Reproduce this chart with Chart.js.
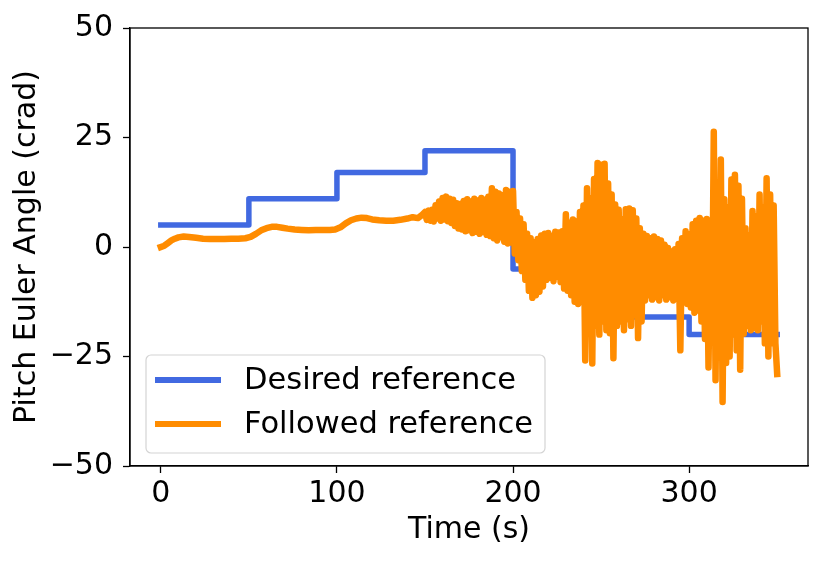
<!DOCTYPE html>
<html>
<head>
<meta charset="UTF-8">
<title>Pitch Euler Angle</title>
<script src="https://cdn.jsdelivr.net/npm/chart.js"></script>
<style>
  html, body { margin: 0; padding: 0; background: #fff; }
  canvas { display: block; }
</style>
</head>
<body>
<canvas id="pitchChart" width="830" height="562"></canvas>
<script>
var xTicks = [0, 100, 200, 300];
var yTicks = [-50, -25, 0, 25, 50];

// desired reference: level held from each time until the next one
var desiredTime = [0, 50, 100, 150, 200, 250, 300, 350];
var desiredValue = [5, 11, 17, 22, -5, -16, -20, -20];

// followed reference
var followedTime = [
  0, 2, 4, 6, 8, 10, 13, 16, 20, 24, 28, 32, 36, 40, 44, 48, 51, 54, 57, 60,
  63, 66, 69, 72, 76, 80, 84, 88, 92, 96, 99, 102, 105, 108, 111, 114, 117, 120, 124, 128,
  132, 136, 140, 143, 146, 148,
  150, 151, 152, 153, 154, 155, 156, 157, 158, 159,
  160, 161, 162, 163, 164, 165, 166, 167, 168, 169,
  170, 171, 172, 173, 174, 175, 176, 177, 178, 179,
  180, 181, 182, 183, 184, 185, 186, 187, 188, 189,
  190, 191, 192, 193, 194, 195, 196, 197, 198, 199,
  200, 201, 202, 203, 204, 205, 206, 207, 208, 209,
  210, 211, 212, 213, 214, 215, 216, 217, 218, 219,
  220, 221, 222, 223, 224, 225, 226, 227, 228, 229,
  230, 231, 232, 233, 234, 235, 236, 237, 238, 239,
  240, 241, 242, 243, 244, 245, 246, 247, 248, 249,
  250, 251, 252, 253, 254, 255, 256, 257, 258, 259,
  260, 261, 262, 263, 264, 265, 266, 267, 268, 269,
  270, 271, 272, 273, 274, 275, 276, 277, 278, 279,
  280, 281, 282, 283, 284, 285, 286, 287, 288, 289,
  290, 291, 292, 293, 294, 295, 296, 297, 298, 299,
  300, 301, 302, 303, 304, 305, 306, 307, 308, 309,
  310, 311, 312, 313, 314, 315, 316, 317, 318, 319,
  320, 321, 322, 323, 324, 325, 326, 327, 328, 329,
  330, 331, 332, 333, 334, 335, 336, 337, 338, 339,
  340, 341, 342, 343, 344, 345, 346, 347, 348, 349,
  350
];
var followedValue = [
  0.0, 0.3, 0.9, 1.5, 1.9, 2.2, 2.4, 2.3, 2.1, 1.9, 1.8, 1.8, 1.8, 1.9, 1.9, 2.0, 2.3, 3.0, 3.8, 4.3,
  4.6, 4.6, 4.4, 4.2, 4.0, 3.9, 3.8, 3.9, 3.9, 3.9, 4.0, 4.5, 5.4, 6.1, 6.5, 6.7, 6.6, 6.3, 6.1, 6.0,
  6.0, 6.2, 6.5, 6.8, 6.6, 7.2,
  8.0, 6.2, 8.3, 6.0, 8.5, 5.8, 9.5, 6.5, 10.4, 6.0,
  11.2, 6.3, 11.5, 5.9, 11.0, 5.5, 10.8, 4.8, 10.0, 4.2,
  9.8, 4.0, 10.5, 3.6, 10.9, 3.8, 10.4, 3.2, 11.0, 3.5,
  10.6, 3.0, 11.2, 3.4, 10.8, 2.8, 11.5, 2.5, 13.4, 2.0,
  12.6, 1.5, 12.2, 2.2, 11.8, 1.2, 13.0, 0.8, 12.6, 1.0,
  12.8, -1.5, 8.0, -3.0, 6.5, -5.5, 5.2, -7.5, 3.0, -10.0,
  2.0, -11.6, 1.0, -11.0, 1.8, -10.2, 2.6, -9.0, 3.0, -7.5,
  3.2, -7.0, 2.5, -7.8, 3.5, -6.8, 3.3, -8.0, 3.6, -9.5,
  7.5, -10.0, 5.5, -11.0, 6.3, -12.5, 5.8, -13.0, 8.0, -10.5,
  9.5, -25.9, 13.4, -14.0, 11.0, -26.6, 15.5, -18.0, 19.2, -20.0,
  18.8, -17.0, 19.0, -19.0, 14.5, -19.7, 12.0, -25.4, 9.7, -18.0,
  8.5, -17.0, 6.3, -19.0, 8.6, -16.5, 8.8, -18.0, 8.4, -15.5,
  6.5, -20.8, 4.3, -17.0, 3.0, -12.2, 2.5, -11.0, 2.0, -12.0,
  2.4, -11.5, 1.8, -12.2, 1.5, -11.0, 0.5, -12.0, -0.2, -11.5,
  -1.0, -12.2, -0.5, -11.8, 0.7, -23.6, 2.0, -12.0, 3.6, -13.0,
  2.8, -13.8, 5.2, -15.0, 6.0, -14.5, 6.6, -17.0, 6.0, -21.0,
  6.4, -27.5, 5.5, -20.0, 26.3, -30.4, 12.0, -22.0, 20.0, -35.4,
  10.9, -26.5, 9.0, -25.0, 15.4, -20.0, 16.5, -23.6, 14.0, -28.0,
  11.0, -19.8, 4.3, -18.0, 2.5, -19.0, 8.2, -18.5, 7.0, -19.0,
  12.0, -17.0, 9.0, -22.0, 15.7, -25.0, 12.0, -22.0, 9.5, -22.0,
  -29.0
];

var FONT = 'DejaVu Sans';
var FONT_SIZE = 30;

function toPoints(times, values) {
  return times.map(function(t, i) { return { x: t, y: values[i] }; });
}

function minusSign(v) {
  return String(v).replace('-', '\u2212');
}

// box around the plot and the legend in the lower left corner
var frameAndLegend = {
  id: 'frameAndLegend',
  afterDatasetsDraw: function(chart) {
    var ctx = chart.ctx;
    var a = chart.chartArea;
    ctx.save();
    ctx.strokeStyle = '#000';
    ctx.lineWidth = 1.3;
    ctx.strokeRect(a.left, a.top, a.right - a.left, a.bottom - a.top);

    var bx = a.left + 16, by = a.top + 327, bw = 399, bh = 98, r = 5;
    ctx.beginPath();
    ctx.moveTo(bx + r, by);
    ctx.arcTo(bx + bw, by, bx + bw, by + bh, r);
    ctx.arcTo(bx + bw, by + bh, bx, by + bh, r);
    ctx.arcTo(bx, by + bh, bx, by, r);
    ctx.arcTo(bx, by, bx + bw, by, r);
    ctx.closePath();
    ctx.fillStyle = 'rgba(255,255,255,0.8)';
    ctx.fill();
    ctx.strokeStyle = '#d4d4d4';
    ctx.lineWidth = 1.2;
    ctx.stroke();

    ctx.font = '30.5px "' + FONT + '"';
    ctx.textBaseline = 'middle';
    ctx.textAlign = 'left';
    chart.data.datasets.forEach(function(ds, i) {
      var y = by + 25 + i * 44;
      ctx.beginPath();
      ctx.moveTo(bx + 9, y);
      ctx.lineTo(bx + 75, y);
      ctx.strokeStyle = ds.borderColor;
      ctx.lineWidth = 6;
      ctx.lineCap = 'butt';
      ctx.stroke();
      ctx.fillStyle = '#000';
      ctx.fillText(ds.label, bx + 98, y + 1);
    });
    ctx.restore();
  }
};

var ctx = document.getElementById('pitchChart').getContext('2d');
new Chart(ctx, {
  type: 'line',
  data: {
    datasets: [{
      label: 'Desired reference',
      data: toPoints(desiredTime, desiredValue),
      borderColor: '#4169E1',
      borderWidth: 5.5,
      stepped: 'before',
      pointRadius: 0,
      borderCapStyle: 'square',
      borderJoinStyle: 'round',
      order: 2
    }, {
      label: 'Followed reference',
      data: toPoints(followedTime, followedValue),
      borderColor: '#FF8C00',
      borderWidth: 6.5,
      tension: 0,
      pointRadius: 0,
      borderCapStyle: 'square',
      borderJoinStyle: 'round',
      order: 1
    }]
  },
  options: {
    responsive: false,
    animation: false,
    layout: { padding: { top: 26, right: 22, left: 0, bottom: 0 } },
    plugins: {
      legend: { display: false },
      tooltip: { enabled: false }
    },
    scales: {
      x: {
        type: 'linear',
        min: -17.5,
        max: 367.5,
        afterBuildTicks: function(scale) {
          scale.ticks = xTicks.map(function(v) { return { value: v }; });
        },
        afterFit: function(scale) { scale.height = 96; },
        grid: { drawOnChartArea: false, drawTicks: true, tickLength: 7, tickColor: '#000', tickWidth: 1.3 },
        border: { display: true, color: '#000', width: 1.3 },
        ticks: {
          color: '#000',
          font: { family: FONT, size: FONT_SIZE },
          padding: 3,
          maxRotation: 0,
          autoSkip: false,
          callback: minusSign
        },
        title: {
          display: true,
          text: 'Time (s)',
          color: '#000',
          font: { family: FONT, size: FONT_SIZE },
          padding: { top: 0, bottom: 14 }
        }
      },
      y: {
        type: 'linear',
        min: -50,
        max: 50,
        afterBuildTicks: function(scale) {
          scale.ticks = yTicks.map(function(v) { return { value: v }; });
        },
        afterFit: function(scale) { scale.width = 130; },
        grid: { drawOnChartArea: false, drawTicks: true, tickLength: 7, tickColor: '#000', tickWidth: 1.3 },
        border: { display: true, color: '#000', width: 1.3 },
        ticks: {
          color: '#000',
          font: { family: FONT, size: FONT_SIZE },
          padding: 10,
          autoSkip: false,
          callback: minusSign
        },
        title: {
          display: true,
          text: 'Pitch Euler Angle (crad)',
          color: '#000',
          font: { family: FONT, size: FONT_SIZE },
          padding: { top: 9, bottom: 0 }
        }
      }
    }
  },
  plugins: [frameAndLegend]
});
</script>
</body>
</html>
